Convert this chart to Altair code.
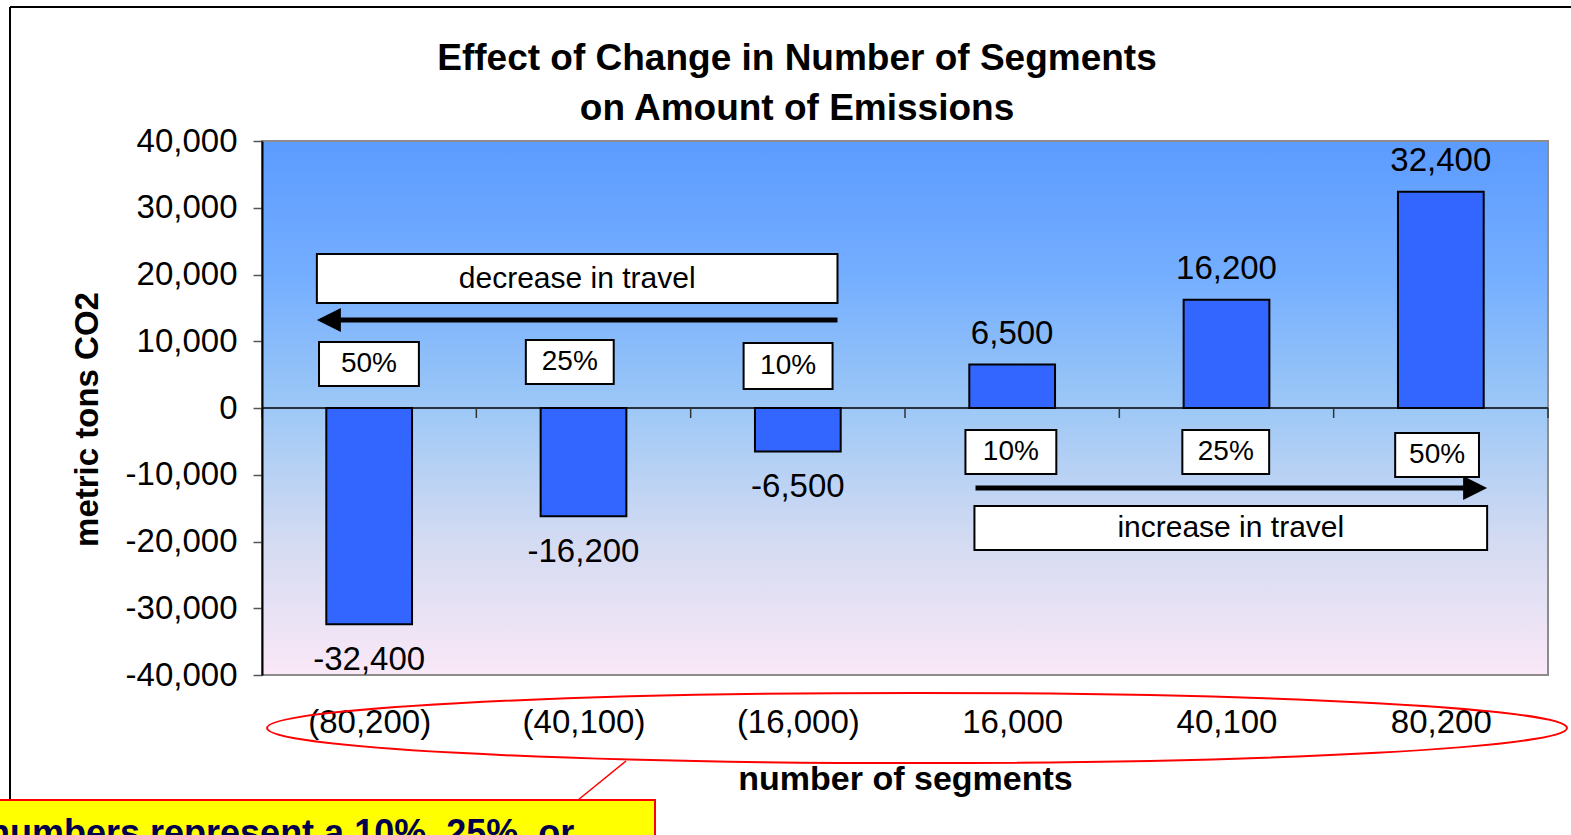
import json
import altair as alt
import pandas as pd

# ---------------- data ----------------
categories = ["(80,200)", "(40,100)", "(16,000)", "16,000", "40,100", "80,200"]
emissions = [-32400, -16200, -6500, 6500, 16200, 32400]
y_ticks = [-40000, -30000, -20000, -10000, 0, 10000, 20000, 30000, 40000]
title_lines = ["Effect of Change in Number of Segments", "on Amount of Emissions"]
y_title = "metric tons CO2"
x_title = "number of segments"
note_text = "numbers represent a 10%, 25%, or"

# annotation boxes (category-index units on x, metric tons on y)
box_text = ["decrease in travel", "50%", "25%", "10%", "10%", "25%", "50%", "increase in travel"]
box_x0 = [0.256, 0.266, 1.231, 2.247, 3.282, 4.294, 5.287, 3.324]
box_x1 = [2.685, 0.732, 1.641, 2.662, 3.706, 4.699, 5.678, 5.716]
box_y0 = [23071, 9888, 10187, 9738, -3296, -3296, -3745, -14681]
box_y1 = [15730, 3296, 3595, 2846, -9888, -9888, -10337, -21273]
box_font = [30, 28, 28, 28, 28, 28, 28, 30]

# arrows: tail x, head x, y
arrow_tail = [2.685, 3.329]
arrow_head = [0.312, 5.660]
arrow_y = [13183, -11985]
arrow_shape = ["M-1,0L1,-1L1,1Z", "M1,0L-1,-1L-1,1Z"]

FONT = "Liberation Sans"
n = len(categories)

# ---------------- tables ----------------
bars = pd.DataFrame({
    "idx": list(range(n)),
    "category": categories,
    "value": emissions,
    "label": [f"{v:,}" for v in emissions],
})
bg = pd.DataFrame({"x0": [0], "x1": [n], "y0": [min(y_ticks)], "y1": [max(y_ticks)]})
zero = pd.DataFrame({"x0": [0], "x1": [n], "y": [0]})
bounds = pd.DataFrame({"b": list(range(n + 1)), "y": [0] * (n + 1)})
boxes = pd.DataFrame({"text": box_text, "x0": box_x0, "x1": box_x1,
                      "y0": box_y0, "y1": box_y1, "fs": box_font})
boxes["xm"] = (boxes["x0"] + boxes["x1"]) / 2
boxes["ym"] = (boxes["y0"] + boxes["y1"]) / 2
arrows = pd.DataFrame({"tail": arrow_tail, "head": arrow_head, "y": arrow_y, "shape": arrow_shape})
one = pd.DataFrame({"a": [0]})

# ---------------- scales & axes ----------------
xscale = alt.Scale(domain=[0, n], nice=False, zero=False)
yscale = alt.Scale(domain=[min(y_ticks), max(y_ticks)], nice=False)

xaxis = alt.Axis(
    values=[i + 0.5 for i in range(n)],
    labelExpr=json.dumps(categories) + "[floor(datum.value)]",
    orient="bottom", domain=False, ticks=False, tickSize=0, grid=False,
    labelFont=FONT, labelFontSize=33, labelColor="black", labelPadding=47,
    labelBaseline="middle", labelAngle=0,
    title=x_title, titleFont=FONT, titleFontSize=34, titleFontWeight="bold",
    titleColor="black", titleY=104, titleBaseline="middle",
)
yaxis = alt.Axis(
    values=y_ticks,
    labelExpr="(datum.value < 0 ? '-' : '') + format(abs(datum.value), ',')",
    grid=False, domainColor="black", domainWidth=2,
    tickColor="#555555", tickSize=9, tickWidth=1.5,
    labelFont=FONT, labelFontSize=33, labelColor="black", labelPadding=16,
    title=y_title, titleFont=FONT, titleFontSize=33, titleFontWeight="bold",
    titleColor="black", titleX=-175, titleY=278, titleAngle=270,
    titleBaseline="middle", titleAlign="center", zindex=1,
)


def X(field):
    return alt.X(field, type="quantitative", scale=xscale, axis=xaxis)


def Y(field):
    return alt.Y(field, type="quantitative", scale=yscale, axis=yaxis)


# ---------------- layers ----------------
gradient = alt.LinearGradient(
    gradient="linear", x1=0, x2=0, y1=0, y2=1,
    stops=[
        alt.GradientStop(color="#5C9BFF", offset=0),
        alt.GradientStop(color="#74AEFF", offset=0.25),
        alt.GradientStop(color="#9DC8F6", offset=0.5),
        alt.GradientStop(color="#D4DBF2", offset=0.75),
        alt.GradientStop(color="#FAE8F7", offset=1),
    ],
)
background = alt.Chart(bg).mark_rect(fill=gradient, stroke="#8C8C8C", strokeWidth=2).encode(
    x=X("x0"), x2="x1", y=Y("y0"), y2="y1")

zero_line = alt.Chart(zero).mark_rule(color="black", strokeWidth=1.5).encode(
    x=X("x0"), x2="x1", y=Y("y"))

cat_ticks = alt.Chart(bounds).mark_rule(color="#333333", strokeWidth=1.5, y2Offset=10).encode(
    x=X("b"), y=Y("y"), y2="y")

bar_base = alt.Chart(bars).transform_calculate(
    x0="datum.idx + 0.3", x1="datum.idx + 0.7", xm="datum.idx + 0.5")

bar_layer = bar_base.mark_rect(fill="#3366FF", stroke="black", strokeWidth=2).encode(
    x=X("x0"), x2="x1", y=Y("value"), y2=alt.Y2(datum=0))

pos_labels = bar_base.transform_filter("datum.value >= 0").mark_text(
    font=FONT, fontSize=33, color="black", baseline="alphabetic", dy=-21).encode(
    x=X("xm"), y=Y("value"), text="label:N")
neg_labels = bar_base.transform_filter("datum.value < 0").mark_text(
    font=FONT, fontSize=33, color="black", baseline="alphabetic", dy=46).encode(
    x=X("xm"), y=Y("value"), text="label:N")

box_rects = alt.Chart(boxes).mark_rect(fill="white", stroke="black", strokeWidth=2).encode(
    x=X("x0"), x2="x1", y=Y("y0"), y2="y1")
box_labels = alt.Chart(boxes).mark_text(font=FONT, color="black", baseline="middle").encode(
    x=X("xm"), y=Y("ym"), text="text:N", size=alt.Size("fs:Q", scale=None, legend=None))

arrow_lines = alt.Chart(arrows).mark_rule(color="black", strokeWidth=5).encode(
    x=X("tail"), x2="head", y=Y("y"))
arrow_heads = alt.Chart(arrows).mark_point(filled=True, fill="black", strokeWidth=0,
                                           opacity=1, size=576).encode(
    x=X("head"), y=Y("y"), shape=alt.Shape("shape:N", scale=None, legend=None))

# titles (pixel positions relative to the plot origin)
title1 = alt.Chart(one).mark_text(text=title_lines[0], font=FONT, fontSize=37, fontWeight="bold",
                                  color="black", baseline="alphabetic", align="center").encode(
    x=alt.value(535), y=alt.value(-71))
title2 = alt.Chart(one).mark_text(text=title_lines[1], font=FONT, fontSize=37, fontWeight="bold",
                                  color="black", baseline="alphabetic", align="center").encode(
    x=alt.value(535), y=alt.value(-21))

# outer chart frame (top and left edges)
frame_top = alt.Chart(one).mark_rule(color="black", strokeWidth=2).encode(
    x=alt.value(-252), x2=alt.value(1400), y=alt.value(-134))
frame_left = alt.Chart(one).mark_rule(color="black", strokeWidth=2).encode(
    x=alt.value(-252), y=alt.value(-134), y2=alt.value(660))

# red ellipse around the category labels
e, k = 0.054, 0.5523
ellipse_path = (
    f"M-1,0C-1,{-e*k:.4f},{-k},{-e},0,{-e}"
    f"C{k},{-e},1,{-e*k:.4f},1,0"
    f"C1,{e*k:.4f},{k},{e},0,{e}"
    f"C{-k},{e},-1,{e*k:.4f},-1,0Z"
)
ellipse = alt.Chart(one).mark_point(shape=ellipse_path, filled=False, stroke="#FF0000",
                                    strokeWidth=2, opacity=1, size=1300 ** 2).encode(
    x=alt.value(655), y=alt.value(587))

# yellow callout
connector = alt.Chart(one).mark_rule(color="#FF0000", strokeWidth=1.5).encode(
    x=alt.value(316), y=alt.value(659), x2=alt.value(364), y2=alt.value(620))
note_box = alt.Chart(one).mark_rect(fill="#FFFF00", stroke="#FF0000", strokeWidth=2).encode(
    x=alt.value(-280), x2=alt.value(393), y=alt.value(659), y2=alt.value(760))
note = alt.Chart(one).mark_text(text=note_text, font=FONT, fontSize=36, fontWeight="bold",
                                color="#00004D", align="left", baseline="alphabetic").encode(
    x=alt.value(-274), y=alt.value(704))

chart = alt.layer(
    background, zero_line, cat_ticks, bar_layer, pos_labels, neg_labels,
    box_rects, box_labels, arrow_lines, arrow_heads,
    title1, title2, frame_top, frame_left, ellipse, connector, note_box, note,
).properties(
    width=1286, height=534,
    autosize=alt.AutoSizeParams(type="none"),
    padding={"left": 262, "top": 141, "right": 23, "bottom": 160},
    background="white",
).configure_view(stroke=None)

chart.save("out.html", embed_options={"renderer": "svg", "actions": False})
